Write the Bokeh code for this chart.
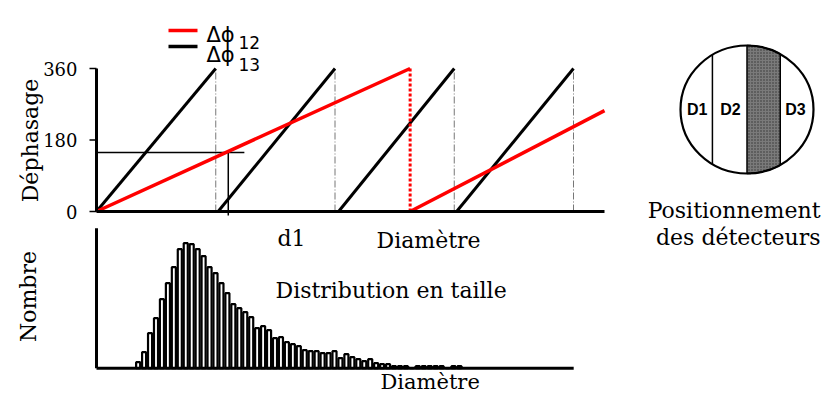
import numpy as np
from bokeh.plotting import figure
from bokeh.models import Range1d, Label
from bokeh.core.properties import value
from bokeh.embed import file_html
from bokeh.resources import INLINE

# ---------------- data ----------------
# phase-shift panel (diameter in arbitrary units, phase in degrees)
phase_ticks = [0, 180, 360]
phase_tick_labels = ["0", "180", "360"]
b13_start = [0.0, 1.02, 2.03, 3.02]      # Δφ13 ramps
b13_end = [1.0, 2.0, 3.0, 4.0]
r12_start = [0.0, 2.63]                  # Δφ12 ramps
r12_end = [2.63, 4.26]
r12_end_phase = [360, 254]
period_marks = [1.0, 2.0, 3.0, 4.0]     # dash-dot lines where Δφ13 wraps
red_wrap = [2.63]                        # where Δφ12 wraps
d1_diam = 1.105
d1_phase = 148.5
d1_guide_end = 1.24
d1_guide_bottom = -10
dia_axis_end = 4.26

# size distribution histogram (diameter class, count)
hist_count = [6, 16, 35, 50, 69, 85, 101, 119, 125, 124, 119, 112, 101, 95, 85,
              75, 64, 60, 56, 51, 40, 42, 38, 30, 31, 26, 24, 22, 18, 17, 17, 15,
              15, 17, 10, 14, 11, 9, 7, 9, 5, 4, 4, 2, 2, 2, 0, 2, 2, 2, 2, 2, 0,
              2, 2]
hist_class = list(range(7, 7 + len(hist_count)))
hist_axis_x_end = 80.2
hist_axis_y_end = 140

# detector layout (unit circle)
detector_edges = [-0.52, 0.0, 0.50]
detector_names = ["D1", "D2", "D3"]
detector_label_x = [-0.75, -0.25, 0.73]

# ---------------- layout helpers ----------------
W, H = 822, 394
X0, Y0 = 0, 0


def xr(a, pa, b, pb):
    s = (pb - pa) / (b - a)
    return Range1d(a + (X0 - pa) / s, a + (X0 + W - pa) / s)


def yr(a, pa, b, pb):
    s = (pa - pb) / (b - a)
    return Range1d(a - (Y0 + H - pa) / s, a + (pa - Y0) / s)


p = figure(width=W, height=H, x_range=Range1d(X0, X0 + W), y_range=Range1d(Y0 + H, Y0),
           output_backend="svg", toolbar_location=None,
           x_axis_location=None, y_axis_location=None,
           min_border=0, min_border_left=0, min_border_right=0,
           min_border_top=0, min_border_bottom=0)
p.grid.visible = False
p.outline_line_color = None
p.background_fill_color = "white"
p.border_fill_color = "white"

p.extra_x_ranges = {"dx": xr(0, 96, 4, 573), "hx": xr(0, 96, 80, 572),
                    "kx": xr(-1, 680, 1, 813)}
p.extra_y_ranges = {"py": yr(0, 211, 360, 68), "hy": yr(0, 367.7, 140, 227.7),
                    "ky": yr(-1, 173, 1, 45)}

serif = "DejaVu Serif"
TOP = dict(x_range_name="dx", y_range_name="py")
HIS = dict(x_range_name="hx", y_range_name="hy")
DET = dict(x_range_name="kx", y_range_name="ky")

px_dx = 477 / 4.0  # pixels per diameter unit in the top panel

# ---------------- top panel ----------------
p.segment(x0=period_marks, y0=[0] * len(period_marks), x1=period_marks,
          y1=[360] * len(period_marks), line_color="#777777", line_width=1,
          line_dash="7 2 1 2", **TOP)
p.segment(x0=[0, d1_diam], y0=[d1_phase, d1_phase], x1=[d1_guide_end, d1_diam],
          y1=[d1_phase, d1_guide_bottom], line_color="black", line_width=1.5, **TOP)
p.segment(x0=b13_start, y0=[0] * len(b13_start), x1=b13_end, y1=[360] * len(b13_end),
          line_color="black", line_width=3, **TOP)
p.segment(x0=red_wrap, y0=[0], x1=red_wrap, y1=[360], line_color="red",
          line_width=3, line_dash="3 2", **TOP)
p.segment(x0=r12_start, y0=[0, 0], x1=r12_end, y1=r12_end_phase,
          line_color="red", line_width=3.5, **TOP)
# axes
p.segment(x0=[0, 0], y0=[0, 0], x1=[0, dia_axis_end], y1=[360, 0],
          line_color="black", line_width=3, **TOP)
p.segment(x0=[-7 / px_dx] * 3, y0=phase_ticks, x1=[0] * 3, y1=phase_ticks,
          line_color="black", line_width=1.5, **TOP)
p.text(x=[-19 / px_dx] * 3, y=phase_ticks, text=phase_tick_labels,
       text_align="right", text_baseline="middle", text_font=value(serif),
       text_font_size="18px", text_color="black", **TOP)

# legend
p.segment(x0=[168, 168], y0=[30, 46], x1=[197, 197], y1=[30, 46],
          line_color=["red", "black"], line_width=3.5)
for yb, ys, sub in [(34, 42, "12"), (54, 64, "13")]:
    p.add_layout(Label(x=206, y=yb, text="Δϕ", text_font="DejaVu Sans",
                       text_font_size="21px", text_baseline="alphabetic",
                       text_color="black"))
    p.add_layout(Label(x=238, y=ys, text=sub, text_font="DejaVu Sans",
                       text_font_size="17px", text_baseline="alphabetic",
                       text_color="black"))

# ---------------- histogram ----------------
p.vbar(x=hist_class, top=hist_count, bottom=0, width=0.68, fill_color="white",
       line_color="black", line_width=2.2, **HIS)
p.segment(x0=[0, 0], y0=[0, 0], x1=[0, hist_axis_x_end], y1=[hist_axis_y_end, 0],
          line_color="black", line_width=3, **HIS)

# ---------------- detector diagram ----------------
t = np.linspace(detector_edges[1], detector_edges[2], 40)
top = np.sqrt(1 - t ** 2)
p.patch(x=np.concatenate([t, t[::-1]]), y=np.concatenate([top, -top[::-1]]),
        fill_color="#7a7a7a", hatch_pattern="dot", hatch_color="#333333",
        hatch_scale=3, hatch_weight=1, line_color="black", line_width=1.5, **DET)
xe = detector_edges[0]
ye = float(np.sqrt(1 - xe ** 2))
p.segment(x0=[xe], y0=[-ye], x1=[xe], y1=[ye], line_color="black", line_width=1.5, **DET)
p.ellipse(x=[0], y=[0], width=[2], height=[2], fill_color=None, line_color="black",
          line_width=2.2, **DET)
p.text(x=detector_label_x, y=[0] * 3, text=detector_names, text_align="center",
       text_baseline="middle", text_font=value("Liberation Sans"),
       text_font_style="bold", text_font_size="16px", text_color="black", **DET)

# ---------------- texts ----------------
def lab(x, y, text, size="22px", **kw):
    kw.setdefault("text_baseline", "alphabetic")
    p.add_layout(Label(x=x, y=y, text=text, text_font=serif, text_font_size=size,
                       text_color="black", **kw))


lab(30, 140, "Déphasage", angle=np.pi / 2, text_align="center", text_baseline="middle")
lab(277, 238, "d1")
lab(376, 240, "Diamètre")
lab(275, 290, "Distribution en taille")
lab(28, 296, "Nombre", angle=np.pi / 2, text_align="center", text_baseline="middle")
lab(380, 393, "Diamètre", size="21px", text_baseline="bottom")
lab(820, 210, "Positionnement", text_align="right")
lab(820, 237, "des détecteurs", text_align="right")

open("out.html", "w").write(file_html(p, INLINE))
